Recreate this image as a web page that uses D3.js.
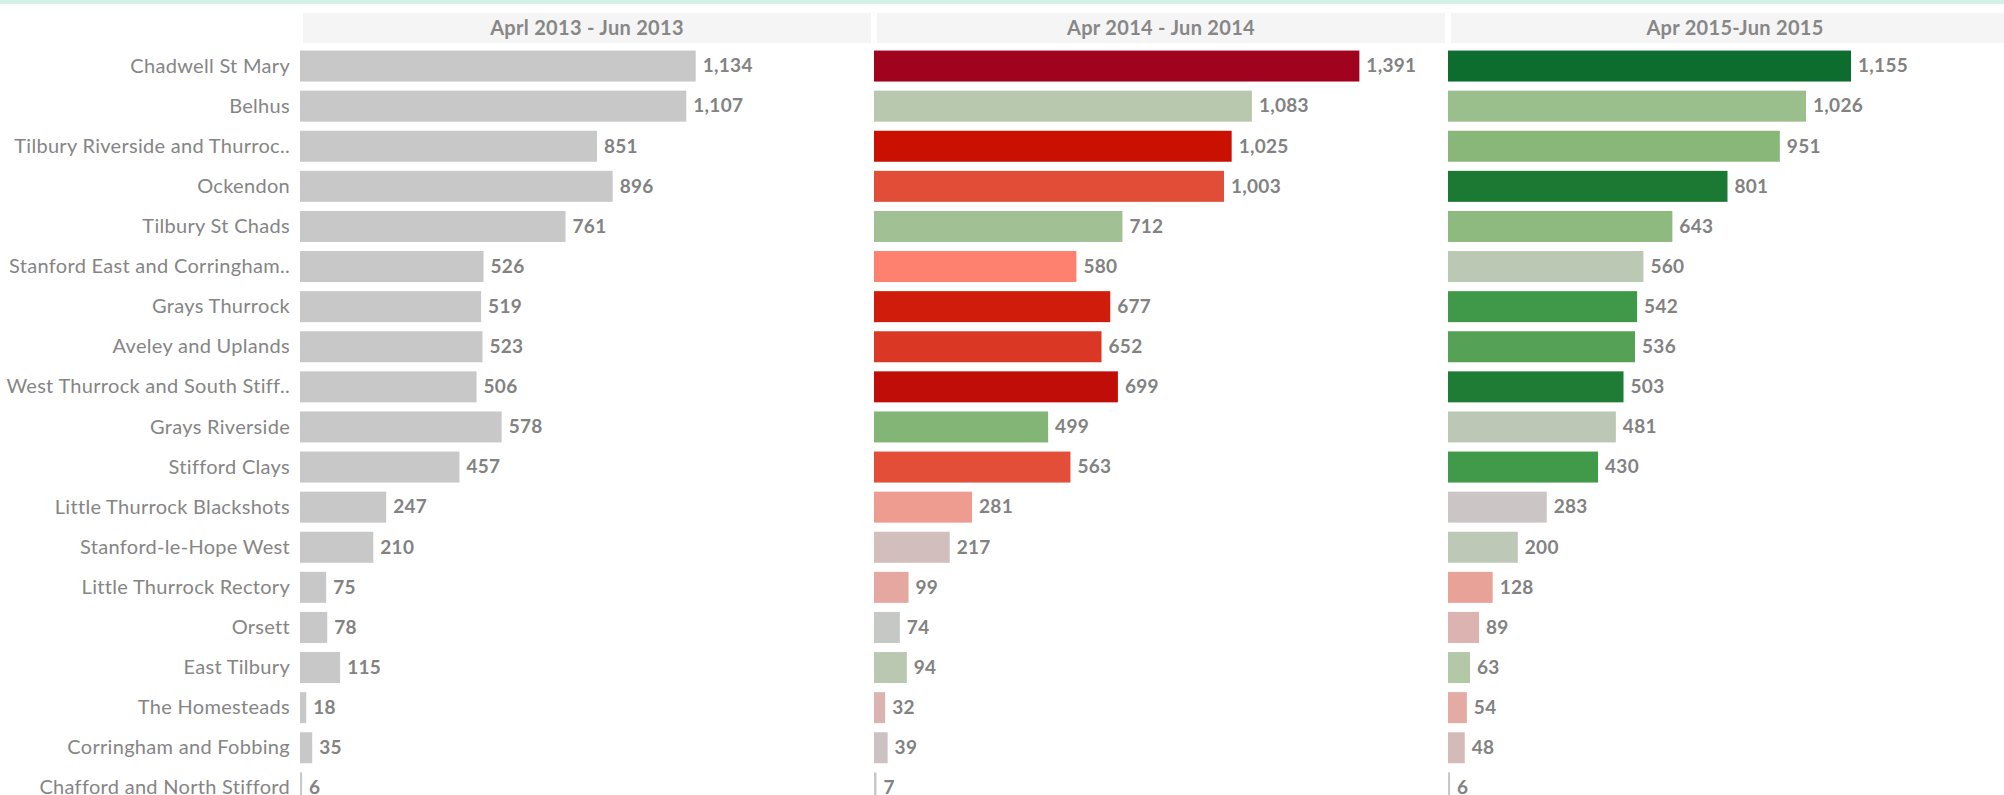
<!DOCTYPE html>
<html>
<head>
<meta charset="utf-8">
<script src="https://cdn.jsdelivr.net/npm/d3@7"></script>
<style>
  body { margin: 0; background: #fff; overflow: hidden; }
  svg { display: block; font-family: Lato, "Open Sans", sans-serif; }
</style>
</head>
<body>
<div id="chart"></div>
<script>
// wards, in the order shown
const categories = [
  "Chadwell St Mary", "Belhus", "Tilbury Riverside and Thurroc..", "Ockendon",
  "Tilbury St Chads", "Stanford East and Corringham..", "Grays Thurrock",
  "Aveley and Uplands", "West Thurrock and South Stiff..", "Grays Riverside",
  "Stifford Clays", "Little Thurrock Blackshots", "Stanford-le-Hope West",
  "Little Thurrock Rectory", "Orsett", "East Tilbury", "The Homesteads",
  "Corringham and Fobbing", "Chafford and North Stifford"
];

const periods = ["Aprl 2013 - Jun 2013", "Apr 2014 - Jun 2014", "Apr 2015-Jun 2015"];

const values2013 = [1134, 1107, 851, 896, 761, 526, 519, 523, 506, 578, 457, 247, 210, 75, 78, 115, 18, 35, 6];
const values2014 = [1391, 1083, 1025, 1003, 712, 580, 677, 652, 699, 499, 563, 281, 217, 99, 74, 94, 32, 39, 7];
const values2015 = [1155, 1026, 951, 801, 643, 560, 542, 536, 503, 481, 430, 283, 200, 128, 89, 63, 54, 48, 6];

const series = [values2013, values2014, values2015];

const width = 2004;
const height = 795;

// one record per bar, colour comes from the change on the previous period
const rows = [];
series.forEach((vals, p) => {
  vals.forEach((v, i) => {
    rows.push({
      period: periods[p],
      ward: categories[i],
      value: v,
      change: p === 0 ? 0 : v - series[p - 1][i]
    });
  });
});

const svg = d3.select("#chart")
  .append("svg")
  .attr("width", width)
  .attr("height", height);

// thin mint strip at the very top
svg.append("rect")
  .attr("x", 0).attr("y", 0)
  .attr("width", width).attr("height", 4)
  .attr("fill", "#d4f1e7");

// scales
const panelScale = d3.scaleBand()
  .domain(periods)
  .range([300, 300 + 574 * periods.length]);

const xScale = d3.scaleLinear()
  .domain([0, 1645])
  .range([0, panelScale.bandwidth()]);

const yScale = d3.scaleBand()
  .domain(categories)
  .range([46, 46 + 40.1 * categories.length])
  .paddingInner(0.227)
  .paddingOuter(0.1135);

// diverging red / green on the change, grey in the middle
const colorScale = d3.scaleLinear()
  .domain([-240, -200, -130, -75, -30, 0, 15, 35, 55, 110, 170, 260])
  .range(["#0a6c2e", "#1c7a34", "#439b4b", "#88b779", "#b4c8a8", "#c8c8c8",
          "#dcb3b0", "#ef9b8d", "#ff806e", "#e04a34", "#cc1100", "#a00320"])
  .clamp(true);

const fmt = d3.format(",");

// column headers
const headers = svg.selectAll(".header")
  .data(periods)
  .enter()
  .append("g")
  .attr("class", "header")
  .attr("transform", d => `translate(${panelScale(d)}, 0)`);

headers.append("rect")
  .attr("x", 3)
  .attr("y", 13)
  .attr("width", panelScale.bandwidth() - 6)
  .attr("height", 30)
  .attr("fill", "#f5f5f5");

headers.append("text")
  .attr("x", panelScale.bandwidth() / 2)
  .attr("y", 28)
  .attr("dy", "0.35em")
  .attr("text-anchor", "middle")
  .style("font-size", "20px")
  .style("font-weight", "bold")
  .style("letter-spacing", "0.3px")
  .style("fill", "#878787")
  .text(d => d);

// ward names on the left
svg.selectAll(".ward")
  .data(categories)
  .enter()
  .append("text")
  .attr("class", "ward")
  .attr("x", 290)
  .attr("y", d => yScale(d) + yScale.bandwidth() / 2)
  .attr("dy", "0.33em")
  .attr("text-anchor", "end")
  .style("font-size", "20px")
  .style("letter-spacing", "0.3px")
  .style("fill", "#858585")
  .text(d => d);

// bars
svg.selectAll(".bar")
  .data(rows)
  .enter()
  .append("rect")
  .attr("class", "bar")
  .attr("x", d => panelScale(d.period))
  .attr("y", d => yScale(d.ward))
  .attr("width", d => xScale(d.value))
  .attr("height", yScale.bandwidth())
  .attr("fill", d => colorScale(d.change));

// value labels
svg.selectAll(".label")
  .data(rows)
  .enter()
  .append("text")
  .attr("class", "label")
  .attr("x", d => panelScale(d.period) + xScale(d.value) + 7)
  .attr("y", d => yScale(d.ward) + yScale.bandwidth() / 2)
  .attr("dy", "0.33em")
  .style("font-size", "19px")
  .style("font-weight", "bold")
  .style("letter-spacing", "0.3px")
  .style("fill", "#828282")
  .text(d => fmt(d.value));
</script>
</body>
</html>
